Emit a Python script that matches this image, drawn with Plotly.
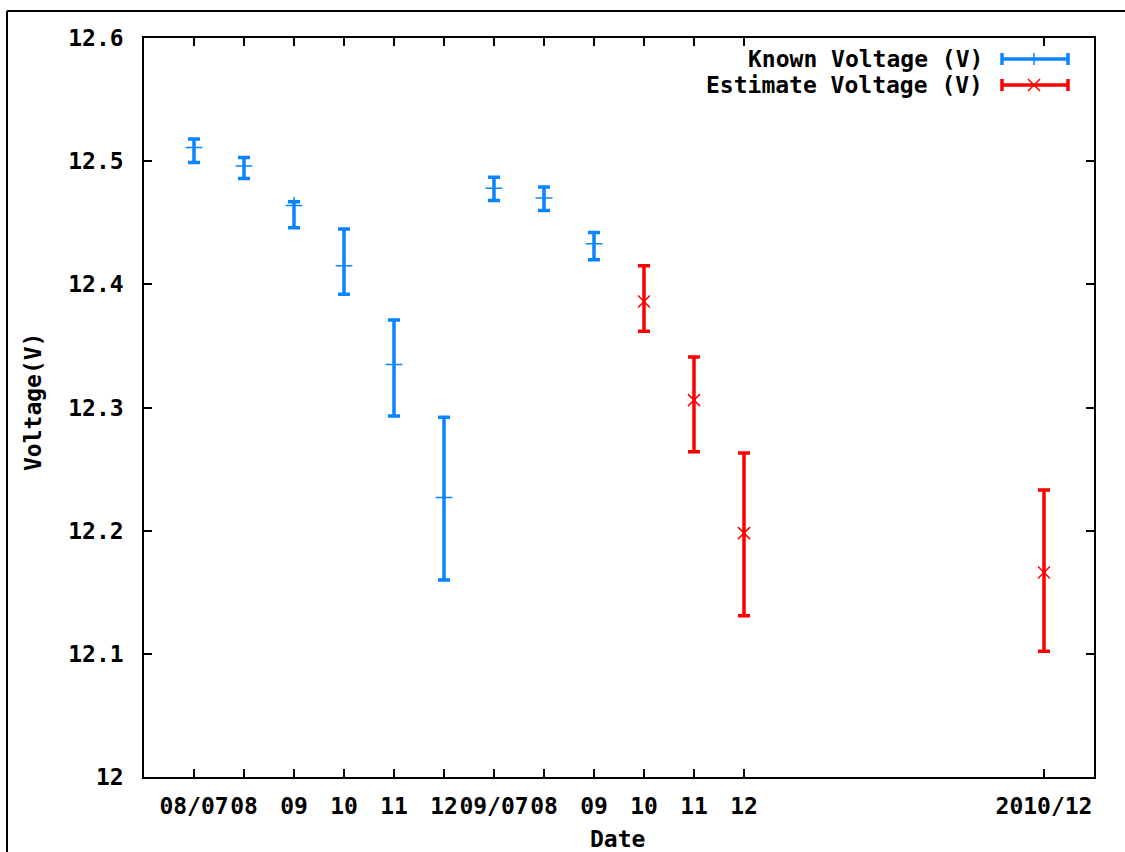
import plotly.graph_objects as go

# ---- data ----
tick_positions = [0, 1, 2, 3, 4, 5, 6, 7, 8, 9, 10, 11, 17]
tick_labels = ["08/07", "08", "09", "10", "11", "12", "09/07", "08", "09", "10", "11", "12", "2010/12"]

known_x = [0, 1, 2, 3, 4, 5, 6, 7, 8]
known_y = [12.511, 12.496, 12.464, 12.415, 12.335, 12.227, 12.478, 12.470, 12.433]
known_high = [12.518, 12.503, 12.467, 12.445, 12.371, 12.292, 12.487, 12.479, 12.442]
known_low = [12.499, 12.486, 12.446, 12.392, 12.293, 12.160, 12.468, 12.460, 12.420]

est_x = [9, 10, 11, 17]
est_y = [12.386, 12.306, 12.198, 12.166]
est_high = [12.415, 12.341, 12.263, 12.233]
est_low = [12.362, 12.264, 12.131, 12.102]

y_ticks = [12.0, 12.1, 12.2, 12.3, 12.4, 12.5, 12.6]
y_tick_text = ["12", "12.1", "12.2", "12.3", "12.4", "12.5", "12.6"]

BLUE = "#0a84ff"
RED = "#ff0000"
FONT = "DejaVu Sans Mono"

fig = go.Figure()

def add_series(x, y, hi, lo, color, symbol, name):
    fig.add_trace(go.Scatter(
        x=x, y=y, mode="markers", name=name,
        marker=dict(symbol=symbol, size=12, color=color,
                    line=dict(color=color, width=1.5)),
        error_y=dict(type="data", symmetric=False,
                     array=[h - v for h, v in zip(hi, y)],
                     arrayminus=[v - l for l, v in zip(lo, y)],
                     color=color, thickness=3.5, width=6),
        showlegend=False,
    ))

add_series(known_x, known_y, known_high, known_low, BLUE, "cross-thin", "Known Voltage (V)")
add_series(est_x, est_y, est_high, est_low, RED, "x-thin", "Estimate Voltage (V)")

W, H = 1125, 852
L, R, T, B = 144, 1094, 38, 777

def px(xp):
    return (xp - L) / (R - L)

def py(yp):
    return (B - yp) / (B - T)

font = dict(family=FONT, size=23, color="black", weight="bold")

shapes = []
annotations = []

# legend (gnuplot style: text right-aligned, sample on the right)
legend_items = [("Known Voltage (V)", BLUE, 59, "plus"), ("Estimate Voltage (V)", RED, 85, "x")]
for text, color, yp, mk in legend_items:
    annotations.append(dict(x=px(985), y=py(yp), xref="paper", yref="paper",
                            text=text, showarrow=False, xanchor="right", yanchor="middle",
                            font=font))
    shapes.append(dict(type="line", xref="paper", yref="paper",
                       x0=px(1002), x1=px(1068), y0=py(yp), y1=py(yp),
                       line=dict(color=color, width=3.5)))
    for xe in (1002, 1068):
        shapes.append(dict(type="line", xref="paper", yref="paper",
                           x0=px(xe), x1=px(xe), y0=py(yp - 6), y1=py(yp + 6),
                           line=dict(color=color, width=3.5)))
    if mk == "plus":
        shapes.append(dict(type="line", xref="paper", yref="paper",
                           x0=px(1034), x1=px(1034), y0=py(yp - 6), y1=py(yp + 6),
                           line=dict(color=color, width=1.5)))
    else:
        shapes.append(dict(type="line", xref="paper", yref="paper",
                           x0=px(1028), x1=px(1040), y0=py(yp - 6), y1=py(yp + 6),
                           line=dict(color=color, width=1.5)))
        shapes.append(dict(type="line", xref="paper", yref="paper",
                           x0=px(1028), x1=px(1040), y0=py(yp + 6), y1=py(yp - 6),
                           line=dict(color=color, width=1.5)))

# outer frame of the picture (top and left edges)
shapes.append(dict(type="line", xref="paper", yref="paper",
                   x0=px(7), x1=px(1130), y0=py(11), y1=py(11),
                   line=dict(color="black", width=2)))
shapes.append(dict(type="line", xref="paper", yref="paper",
                   x0=px(7), x1=px(7), y0=py(11), y1=py(860),
                   line=dict(color="black", width=2)))

# axis titles
annotations.append(dict(x=px(33), y=py(402), xref="paper", yref="paper",
                        text="Voltage(V)", textangle=-90, showarrow=False,
                        xanchor="center", yanchor="middle", font=font))
annotations.append(dict(x=px(617), y=py(839), xref="paper", yref="paper",
                        text="Date", showarrow=False,
                        xanchor="center", yanchor="middle", font=font))

fig.update_layout(
    width=W, height=H,
    margin=dict(l=L, r=W - R, t=T, b=H - B, pad=0, autoexpand=False),
    paper_bgcolor="white", plot_bgcolor="white",
    shapes=shapes, annotations=annotations,
    font=font,
    showlegend=False,
)

fig.update_xaxes(
    range=[-1, 18], tickmode="array", tickvals=tick_positions, ticktext=tick_labels,
    showgrid=False, zeroline=False, showline=True, linecolor="black", linewidth=1.5,
    mirror="ticks", ticks="inside", ticklen=8, tickwidth=1.5, tickcolor="black",
    tickfont=font, ticklabelstandoff=8, tickangle=0, automargin=False,
    ticklabeloverflow="allow",
)
fig.update_yaxes(
    range=[12.0, 12.6], tickmode="array", tickvals=y_ticks, ticktext=y_tick_text,
    showgrid=False, zeroline=False, showline=True, linecolor="black", linewidth=1.5,
    mirror="ticks", ticks="inside", ticklen=8, tickwidth=1.5, tickcolor="black",
    tickfont=font, ticklabelstandoff=14, automargin=False,
)

fig.write_html("out.html")
